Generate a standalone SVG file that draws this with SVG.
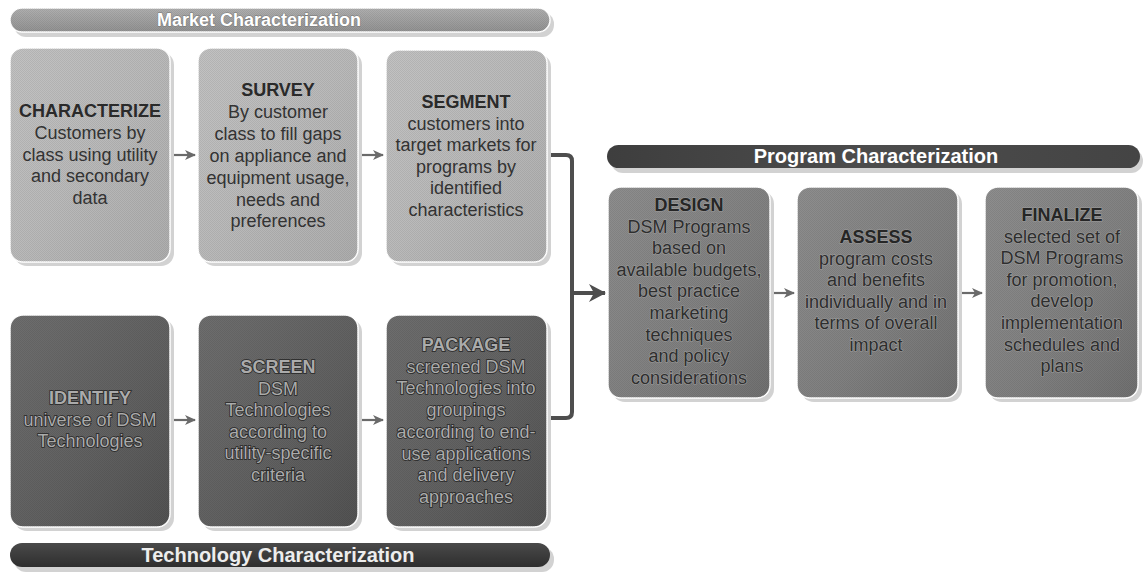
<svg xmlns="http://www.w3.org/2000/svg" width="1143" height="573" viewBox="0 0 1143 573">
<defs>
  <style>
    text { font-family: "Liberation Sans", Arial, sans-serif; font-size: 18px; text-anchor: middle; }
    .title { font-weight: bold; }
    .ltxt { fill: #333333; }
    .dtxt { fill: #ababab; stroke: #262626; stroke-width: 1.6px; paint-order: stroke; }
    .ptxt { fill: #2e2e2e; stroke: #9c9c9c; stroke-width: 1.2px; paint-order: stroke; }
    .banner-txt { font-weight: bold; fill: #ffffff; }
    .shadow { fill: #d2d2d2; }
    .edge { stroke: #ffffff; stroke-width: 1.5; }
    .dither { fill: url(#dots); stroke: none; }
    .sarrow { stroke: #6a6a6a; stroke-width: 2.2; fill: none; marker-end: url(#small); }
    .conn { stroke: #4e4e4e; stroke-width: 4; fill: none; stroke-linejoin: round; }
  </style>
  <pattern id="dots" width="2" height="2" patternUnits="userSpaceOnUse">
    <rect width="1" height="1" fill="#000" fill-opacity="0.07"/>
    <rect x="1" y="1" width="1" height="1" fill="#000" fill-opacity="0.07"/>
  </pattern>
  <linearGradient id="gLight" x1="0" y1="0" x2="1" y2="1">
    <stop offset="0" stop-color="#c2c2c2"/>
    <stop offset="0.5" stop-color="#bababa"/>
    <stop offset="1" stop-color="#adadad"/>
  </linearGradient>
  <linearGradient id="gDark" x1="0" y1="0" x2="1" y2="1">
    <stop offset="0" stop-color="#6e6e6e"/>
    <stop offset="0.6" stop-color="#606060"/>
    <stop offset="1" stop-color="#525252"/>
  </linearGradient>
  <linearGradient id="gMid" x1="0" y1="0" x2="1" y2="1">
    <stop offset="0" stop-color="#8e8e8e"/>
    <stop offset="0.6" stop-color="#808080"/>
    <stop offset="1" stop-color="#707070"/>
  </linearGradient>
  <linearGradient id="gBanLight" x1="0" y1="0" x2="0" y2="1">
    <stop offset="0" stop-color="#b0b0b0"/>
    <stop offset="1" stop-color="#929292"/>
  </linearGradient>
  <linearGradient id="gBanDark" x1="0" y1="0" x2="0" y2="1">
    <stop offset="0" stop-color="#4a4a4a"/>
    <stop offset="1" stop-color="#2e2e2e"/>
  </linearGradient>
  <linearGradient id="gBanProg" x1="0" y1="0" x2="1" y2="0">
    <stop offset="0" stop-color="#3e3e3e"/>
    <stop offset="0.5" stop-color="#4c4c4c"/>
    <stop offset="1" stop-color="#444444"/>
  </linearGradient>
  <marker id="small" markerUnits="userSpaceOnUse" markerWidth="12" markerHeight="12" refX="10" refY="5" orient="auto">
    <path d="M0,0 L11,5 L0,10 L3,5 Z" fill="#6a6a6a"/>
  </marker>
  <marker id="big" markerUnits="userSpaceOnUse" markerWidth="20" markerHeight="20" refX="16" refY="9" orient="auto">
    <path d="M0,0 L17,9 L0,18 L5,9 Z" fill="#4e4e4e"/>
  </marker>
</defs>
<rect width="1143" height="573" fill="#ffffff"/>

<!-- Banners -->
<g id="banner-market">
  <rect x="14" y="12" width="540" height="25" rx="12" class="shadow"/>
  <rect x="10" y="8" width="540" height="24" rx="12" fill="url(#gBanLight)" class="edge"/>
  <rect x="10" y="8" width="540" height="24" rx="12" class="dither"/>
  <text x="259" y="26" class="banner-txt" style="stroke:#777;stroke-width:1px;paint-order:stroke">Market Characterization</text>
</g>
<g id="banner-program">
  <rect x="611" y="149" width="532" height="24" rx="12" class="shadow"/>
  <rect x="607" y="145" width="533" height="23" rx="11.5" fill="url(#gBanProg)"/>
  <text x="876" y="163" class="banner-txt" style="font-size:20px">Program Characterization</text>
</g>
<g id="banner-technology">
  <rect x="14" y="547" width="540" height="25" rx="12" class="shadow"/>
  <rect x="10" y="543" width="540" height="24" rx="12" fill="url(#gBanDark)"/>
  <text x="278" y="562" class="banner-txt" style="font-size:20px;fill:#ededed">Technology Characterization</text>
</g>

<!-- Connectors -->
<g id="connectors">
  <line x1="174" y1="155" x2="195" y2="155" class="sarrow"/>
  <line x1="362" y1="155" x2="383" y2="155" class="sarrow"/>
  <line x1="174" y1="420" x2="195" y2="420" class="sarrow"/>
  <line x1="362" y1="420" x2="383" y2="420" class="sarrow"/>
  <line x1="774" y1="293" x2="794" y2="293" class="sarrow"/>
  <line x1="961" y1="293" x2="982" y2="293" class="sarrow"/>
  <path d="M548,155 H566 Q572,155 572,161 V412 Q572,418 566,418 H547" class="conn"/>
  <line x1="572" y1="293" x2="605" y2="293" class="conn" marker-end="url(#big)"/>
</g>

<!-- Market row -->
<g id="node-characterize">
  <rect x="14" y="52" width="160" height="214" rx="13" class="shadow"/>
  <rect x="10" y="48" width="160" height="214" rx="13" fill="url(#gLight)" class="edge"/>
  <rect x="10" y="48" width="160" height="214" rx="13" class="dither"/>
  <text x="90" y="117" class="ltxt"><tspan class="title" fill="#2a2a2a">CHARACTERIZE</tspan><tspan x="90" dy="21.75">Customers by</tspan><tspan x="90" dy="21.75">class using utility</tspan><tspan x="90" dy="21.75">and secondary</tspan><tspan x="90" dy="21.75">data</tspan></text>
</g>
<g id="node-survey">
  <rect x="202" y="52" width="160" height="214" rx="13" class="shadow"/>
  <rect x="198" y="48" width="160" height="214" rx="13" fill="url(#gLight)" class="edge"/>
  <rect x="198" y="48" width="160" height="214" rx="13" class="dither"/>
  <text x="278" y="96" class="ltxt"><tspan class="title" fill="#2a2a2a">SURVEY</tspan><tspan x="278" dy="21.9">By customer</tspan><tspan x="278" dy="21.9">class to fill gaps</tspan><tspan x="278" dy="21.9">on appliance and</tspan><tspan x="278" dy="21.9">equipment usage,</tspan><tspan x="278" dy="21.9">needs and</tspan><tspan x="278" dy="21.9">preferences</tspan></text>
</g>
<g id="node-segment">
  <rect x="390" y="54" width="161" height="212" rx="13" class="shadow"/>
  <rect x="386" y="50" width="161" height="212" rx="13" fill="url(#gLight)" class="edge"/>
  <rect x="386" y="50" width="161" height="212" rx="13" class="dither"/>
  <text x="466" y="108" class="ltxt"><tspan class="title" fill="#2a2a2a">SEGMENT</tspan><tspan x="466" dy="21.6">customers into</tspan><tspan x="466" dy="21.6">target markets for</tspan><tspan x="466" dy="21.6">programs by</tspan><tspan x="466" dy="21.6">identified</tspan><tspan x="466" dy="21.6">characteristics</tspan></text>
</g>

<!-- Technology row -->
<g id="node-identify">
  <rect x="14" y="319" width="160" height="212" rx="13" class="shadow"/>
  <rect x="10" y="315" width="160" height="212" rx="13" fill="url(#gDark)" class="edge"/>
  <rect x="10" y="315" width="160" height="212" rx="13" class="dither"/>
  <text x="90" y="404" class="dtxt"><tspan class="title">IDENTIFY</tspan><tspan x="90" dy="21.6">universe of DSM</tspan><tspan x="90" dy="21.6">Technologies</tspan></text>
</g>
<g id="node-screen">
  <rect x="202" y="319" width="160" height="212" rx="13" class="shadow"/>
  <rect x="198" y="315" width="160" height="212" rx="13" fill="url(#gDark)" class="edge"/>
  <rect x="198" y="315" width="160" height="212" rx="13" class="dither"/>
  <text x="278" y="373" class="dtxt"><tspan class="title">SCREEN</tspan><tspan x="278" dy="21.6">DSM</tspan><tspan x="278" dy="21.6">Technologies</tspan><tspan x="278" dy="21.6">according to</tspan><tspan x="278" dy="21.6">utility-specific</tspan><tspan x="278" dy="21.6">criteria</tspan></text>
</g>
<g id="node-package">
  <rect x="390" y="319" width="161" height="212" rx="13" class="shadow"/>
  <rect x="386" y="315" width="161" height="212" rx="13" fill="url(#gDark)" class="edge"/>
  <rect x="386" y="315" width="161" height="212" rx="13" class="dither"/>
  <text x="466" y="351" class="dtxt"><tspan class="title">PACKAGE</tspan><tspan x="466" dy="21.7">screened DSM</tspan><tspan x="466" dy="21.7">Technologies into</tspan><tspan x="466" dy="21.7">groupings</tspan><tspan x="466" dy="21.7">according to end-</tspan><tspan x="466" dy="21.7">use applications</tspan><tspan x="466" dy="21.7">and delivery</tspan><tspan x="466" dy="21.7">approaches</tspan></text>
</g>

<!-- Program row -->
<g id="node-design">
  <rect x="612" y="191" width="162" height="211" rx="13" class="shadow"/>
  <rect x="608" y="187" width="162" height="211" rx="13" fill="url(#gMid)" class="edge"/>
  <rect x="608" y="187" width="162" height="211" rx="13" class="dither"/>
  <text x="689" y="211" class="ptxt"><tspan class="title" style="fill:#262626">DESIGN</tspan><tspan x="689" dy="21.6">DSM Programs</tspan><tspan x="689" dy="21.6">based on</tspan><tspan x="689" dy="21.6">available budgets,</tspan><tspan x="689" dy="21.6">best practice</tspan><tspan x="689" dy="21.6">marketing</tspan><tspan x="689" dy="21.6">techniques</tspan><tspan x="689" dy="21.6">and policy</tspan><tspan x="689" dy="21.6">considerations</tspan></text>
</g>
<g id="node-assess">
  <rect x="801" y="191" width="161" height="211" rx="13" class="shadow"/>
  <rect x="797" y="187" width="161" height="211" rx="13" fill="url(#gMid)" class="edge"/>
  <rect x="797" y="187" width="161" height="211" rx="13" class="dither"/>
  <text x="876" y="243" class="ptxt"><tspan class="title" style="fill:#262626">ASSESS</tspan><tspan x="876" dy="21.6">program costs</tspan><tspan x="876" dy="21.6">and benefits</tspan><tspan x="876" dy="21.6">individually and in</tspan><tspan x="876" dy="21.6">terms of overall</tspan><tspan x="876" dy="21.6">impact</tspan></text>
</g>
<g id="node-finalize">
  <rect x="989" y="191" width="153" height="211" rx="13" class="shadow"/>
  <rect x="985" y="187" width="153" height="211" rx="13" fill="url(#gMid)" class="edge"/>
  <rect x="985" y="187" width="153" height="211" rx="13" class="dither"/>
  <text x="1062" y="221" class="ptxt"><tspan class="title" style="fill:#262626">FINALIZE</tspan><tspan x="1062" dy="21.6">selected set of</tspan><tspan x="1062" dy="21.6">DSM Programs</tspan><tspan x="1062" dy="21.6">for promotion,</tspan><tspan x="1062" dy="21.6">develop</tspan><tspan x="1062" dy="21.6">implementation</tspan><tspan x="1062" dy="21.6">schedules and</tspan><tspan x="1062" dy="21.6">plans</tspan></text>
</g>
</svg>
